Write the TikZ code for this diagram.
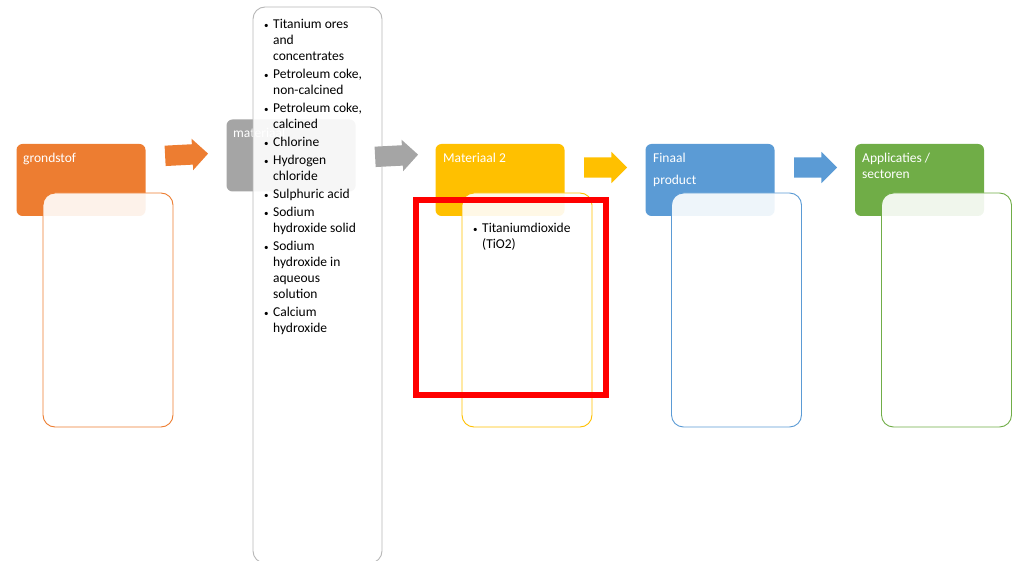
\documentclass[tikz,border=0pt]{standalone}
\usepackage{fontspec}
\setmainfont{Carlito}
\usepackage{tikz}
\usetikzlibrary{shapes.arrows, positioning}
\definecolor{orangeacc}{HTML}{ED7D31}
\definecolor{grayacc}{HTML}{A5A5A5}
\definecolor{goldacc}{HTML}{FFC000}
\definecolor{blueacc}{HTML}{5B9BD5}
\definecolor{greenacc}{HTML}{70AD47}
\definecolor{markred}{HTML}{FF0000}
\newcommand{\smallbullet}{{\fontsize{9}{10}\selectfont\textbullet}}

\begin{document}
\begin{tikzpicture}[
    x=1pt, y=-1pt,
    header/.style={fill=#1, rounded corners=6pt, inner sep=0pt, minimum width=129pt, minimum height=72pt},
    listbox/.style={draw=#1, line width=0.9pt, fill=white, fill opacity=0.9, rounded corners=12pt, minimum width=130pt, minimum height=234pt},
    headtext/.style={text=white, font=\fontsize{13.5}{16}\selectfont, anchor=base west, inner sep=0pt},
    listtext/.style={font=\fontsize{13.5}{16}\selectfont, anchor=base west, inner sep=0pt},
    flow/.style={single arrow, fill=#1, inner xsep=0pt, inner ysep=10pt, minimum height=43pt, single arrow head extend=5.5pt}
]
    \useasboundingbox (0,0) rectangle (1018,561);

    % Headers
    \node[header=orangeacc] (grondstof) at (81, 180) {};
    \node[header=grayacc] (materiaal) at (291, 155.5) {};
    \node[header=goldacc] (materiaal2) at (500, 180) {};
    \node[header=blueacc] (finaal) at (710, 180) {};
    \node[header=greenacc] (applicaties) at (919.5, 180) {};

    \node[headtext] (grondstoftxt) at (23, 163) {grondstof};
    \node[headtext] (materiaaltxt) at (233, 138) {materiaal};
    \node[headtext] (materiaal2txt) at (443, 163) {Materiaal 2};
    \node[headtext] (finaaltxt) at (653, 163) {Finaal};
    \node[headtext] (producttxt) at (653, 185) {product};
    \node[headtext] (applicatiestxt) at (862, 163) {Applicaties /};
    \node[headtext] (sectorentxt) at (862, 179) {sectoren};

    % Lists
    \node[listbox=orangeacc] (grondstoflist) at (108, 310) {};
    \node[listbox=grayacc!80, minimum width=129pt, minimum height=556pt] (materiaallist) at (317.5, 285) {};
    \node[listbox=goldacc] (materiaal2list) at (527, 310) {};
    \node[listbox=blueacc] (finaallist) at (736.5, 310) {};
    \node[listbox=greenacc] (applicatieslist) at (946.5, 310) {};

    \node[listtext] (materiaalitems) at (264, 29) {%
        \begin{tabular}[t]{@{}l@{\hspace{4.5pt}}l@{}}
        \smallbullet & Titanium ores\\ & and\\ & concentrates\\[2pt]
        \smallbullet & Petroleum coke,\\ & non-calcined\\[2pt]
        \smallbullet & Petroleum coke,\\ & calcined\\[2pt]
        \smallbullet & Chlorine\\[2pt]
        \smallbullet & Hydrogen\\ & chloride\\[2pt]
        \smallbullet & Sulphuric acid\\[2pt]
        \smallbullet & Sodium\\ & hydroxide solid\\[2pt]
        \smallbullet & Sodium\\ & hydroxide in\\ & aqueous\\ & solution\\[2pt]
        \smallbullet & Calcium\\ & hydroxide
        \end{tabular}};
    \node[listtext] (materiaal2items) at (473, 233) {%
        \begin{tabular}[t]{@{}l@{\hspace{4.5pt}}l@{}}
        \smallbullet & Titaniumdioxide\\ & (TiO2)
        \end{tabular}};

    % Flow arrows
    \node[flow=orangeacc, rotate=3] (arrow1) at (181.5, 155) {};
    \node[flow=grayacc, rotate=3] (arrow2) at (391.5, 156) {};
    \node[flow=goldacc] (arrow3) at (600.5, 167.5) {};
    \node[flow=blueacc] (arrow4) at (810.5, 167.5) {};

    % Highlight
    \node[draw=markred, line width=5.5pt, minimum width=190pt, minimum height=195pt, inner sep=0pt] (highlight) at (511, 297.5) {};

\end{tikzpicture}
\end{document}
